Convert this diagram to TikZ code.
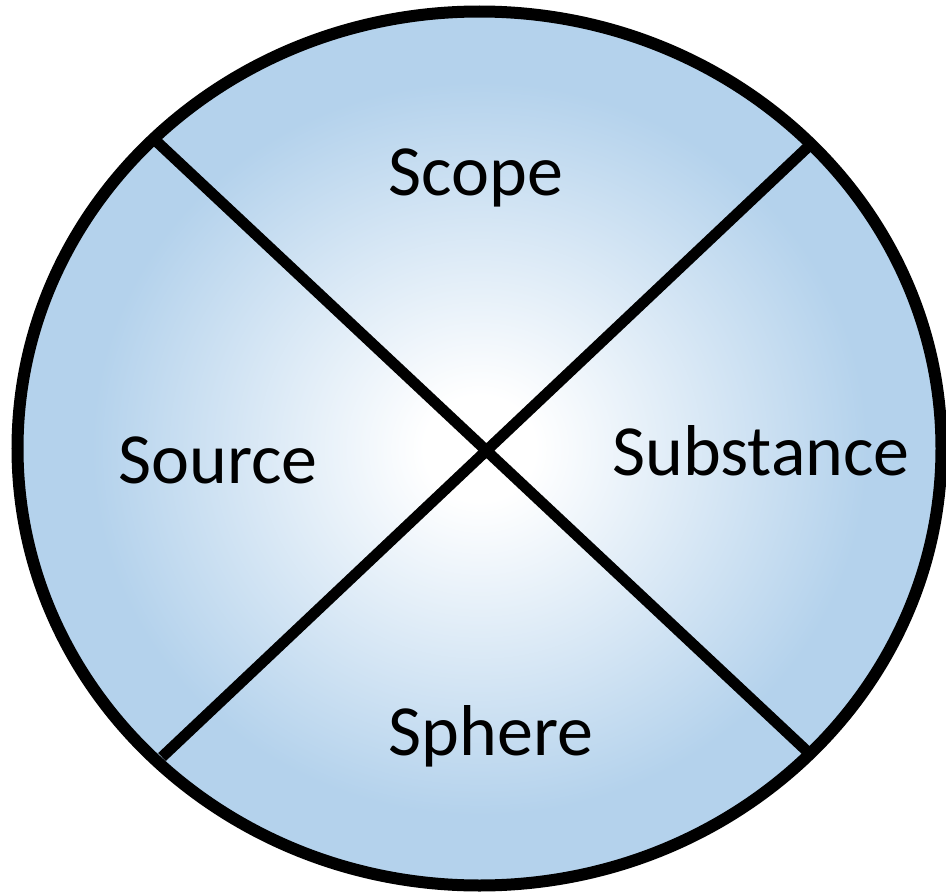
\documentclass[tikz,border=0pt]{standalone}
\usepackage{fontspec}
\setmainfont{Carlito}
\usepackage{tikz}
\usetikzlibrary{shapes.geometric}
\definecolor{discblue}{RGB}{180,210,236}
\pgfdeclareradialshading{discglow}{\pgfpoint{0bp}{0bp}}{color(0bp)=(white); color(3bp)=(white); color(21bp)=(discblue); color(50bp)=(discblue)}
\tikzset{
  disc/.style={ellipse, draw=black, line width=12pt, shade, shading=discglow,
               minimum width=924pt, minimum height=874pt, inner sep=0pt},
  cut/.style={black, line width=11pt},
  word/.style={anchor=base, font=\fontsize{72}{72}\selectfont},
}

\begin{document}
\begin{tikzpicture}[x=1pt, y=-1pt]
\useasboundingbox (0,0) rectangle (946,894);
\node[disc] (wheel) at (479.5,448.5) {};
\coordinate (nw) at (155,140);
\coordinate (ne) at (810,145);
\coordinate (se) at (810,754);
\coordinate (sw) at (162,757);
\draw[cut] (nw) -- (se);
\draw[cut] (ne) -- (sw);
\node[word] (scope) at (476,195) {Scope};
\node[word] (source) at (218,483) {Source};
\node[word] (substance) at (761,475) {Substance};
\node[word] (sphere) at (491,755) {Sphere};
\end{tikzpicture}
\end{document}
